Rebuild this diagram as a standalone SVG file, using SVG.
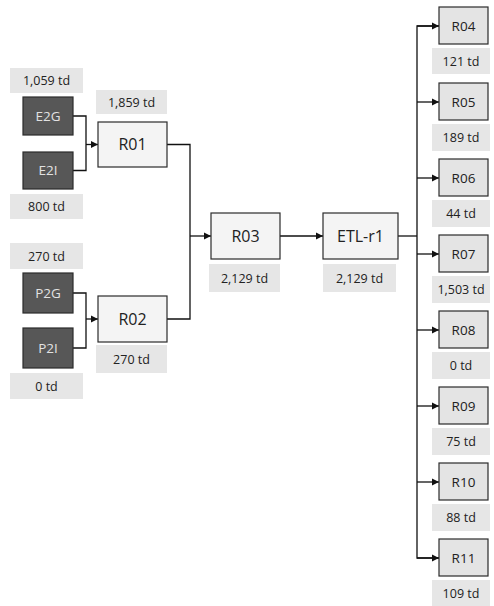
<svg xmlns="http://www.w3.org/2000/svg" width="494" height="606" viewBox="0 0 494 606">
<style>
.src{fill:#575757;stroke:#2b2b2b;stroke-width:1.2}
.srct{fill:#e2e2e2;font-family:"Open Sans","Liberation Sans",sans-serif;font-size:13.5px;text-anchor:middle}
.mid{fill:#f4f4f4;stroke:#2b2b2b;stroke-width:1.2}
.out{fill:#e4e4e4;stroke:#2b2b2b;stroke-width:1.2}
.bt{fill:#222;font-family:"Open Sans","Liberation Sans",sans-serif;font-size:16px;text-anchor:middle}
.ot{fill:#222;font-family:"Open Sans","Liberation Sans",sans-serif;font-size:13.5px;text-anchor:middle}
.lb{fill:#e6e6e6}
.lt{fill:#222;font-family:"Open Sans","Liberation Sans",sans-serif;font-size:12.5px;text-anchor:middle}
.c{fill:none;stroke:#111;stroke-width:1.3}
</style>
<defs>
<marker id="ah" markerWidth="8" markerHeight="8" refX="7" refY="4" orient="auto" markerUnits="userSpaceOnUse">
<path d="M0,0.5 L7,4 L0,7.5 Z" fill="#111"/>
</marker>
</defs>
<g id="connectors">
<path class="c" d="M73,116 H86 V170.5 H73"/>
<path class="c" d="M86,144.5 H98" marker-end="url(#ah)"/>
<path class="c" d="M73,293 H86 V348 H73"/>
<path class="c" d="M86,319 H98" marker-end="url(#ah)"/>
<path class="c" d="M167,144.5 H190 V319 H167"/>
<path class="c" d="M190,236 H211" marker-end="url(#ah)"/>
<path class="c" d="M280,236 H323" marker-end="url(#ah)"/>
<path class="c" d="M398,236 H417"/>
<path class="c" d="M439,26 H417 V558 H439"/>
<path class="c" d="M417,26 H439" marker-end="url(#ah)"/>
<path class="c" d="M417,102 H439" marker-end="url(#ah)"/>
<path class="c" d="M417,178 H439" marker-end="url(#ah)"/>
<path class="c" d="M417,254 H439" marker-end="url(#ah)"/>
<path class="c" d="M417,330 H439" marker-end="url(#ah)"/>
<path class="c" d="M417,406 H439" marker-end="url(#ah)"/>
<path class="c" d="M417,482 H439" marker-end="url(#ah)"/>
<path class="c" d="M417,558 H439" marker-end="url(#ah)"/>
</g>
<g id="E2G">
<rect class="lb" x="10" y="68" width="73" height="25"/><text class="lt" x="46.5" y="85">1,059 td</text>
<rect class="src" x="23" y="97" width="50" height="38"/><text class="srct" x="48" y="121">E2G</text>
</g>
<g id="E2I">
<rect class="src" x="23" y="152" width="50" height="37"/><text class="srct" x="48" y="175">E2I</text>
<rect class="lb" x="10" y="194" width="73" height="25"/><text class="lt" x="46.5" y="211">800 td</text>
</g>
<g id="R01">
<rect class="lb" x="96" y="90" width="71" height="24"/><text class="lt" x="131.5" y="106.5">1,859 td</text>
<rect class="mid" x="98" y="122" width="69" height="45"/><text class="bt" x="132.5" y="150">R01</text>
</g>
<g id="P2G">
<rect class="lb" x="10" y="243" width="73" height="26"/><text class="lt" x="46.5" y="260.5">270 td</text>
<rect class="src" x="23" y="273" width="50" height="40"/><text class="srct" x="48" y="298">P2G</text>
</g>
<g id="P2I">
<rect class="src" x="23" y="328" width="50" height="40"/><text class="srct" x="48" y="353">P2I</text>
<rect class="lb" x="10" y="373" width="73" height="26"/><text class="lt" x="46.5" y="390.5">0 td</text>
</g>
<g id="R02">
<rect class="mid" x="98" y="296" width="69" height="46"/><text class="bt" x="132.5" y="324.5">R02</text>
<rect class="lb" x="96" y="345" width="71" height="28"/><text class="lt" x="131.5" y="363.5">270 td</text>
</g>
<g id="R03">
<rect class="mid" x="211" y="213" width="69" height="46"/><text class="bt" x="245.5" y="241.5">R03</text>
<rect class="lb" x="209" y="264" width="71" height="28"/><text class="lt" x="244.5" y="282.5">2,129 td</text>
</g>
<g id="ETL-r1">
<rect class="mid" x="323" y="213" width="75" height="46"/><text class="bt" x="360.5" y="241.5">ETL-r1</text>
<rect class="lb" x="323" y="264" width="73" height="28"/><text class="lt" x="359.5" y="282.5">2,129 td</text>
</g>
<g id="R04">
<rect class="out" x="439" y="7" width="49" height="37"/><text class="ot" x="463.5" y="30.5">R04</text>
<rect class="lb" x="432" y="48" width="58" height="26"/><text class="lt" x="461" y="65.5">121 td</text>
</g>
<g id="R05">
<rect class="out" x="439" y="83" width="49" height="37"/><text class="ot" x="463.5" y="106.5">R05</text>
<rect class="lb" x="432" y="124" width="58" height="27"/><text class="lt" x="461" y="142">189 td</text>
</g>
<g id="R06">
<rect class="out" x="439" y="159" width="49" height="37"/><text class="ot" x="463.5" y="182.5">R06</text>
<rect class="lb" x="432" y="200" width="58" height="27"/><text class="lt" x="461" y="218">44 td</text>
</g>
<g id="R07">
<rect class="out" x="439" y="235" width="49" height="37"/><text class="ot" x="463.5" y="258.5">R07</text>
<rect class="lb" x="432" y="276" width="58" height="27"/><text class="lt" x="461" y="294">1,503 td</text>
</g>
<g id="R08">
<rect class="out" x="439" y="311" width="49" height="37"/><text class="ot" x="463.5" y="334.5">R08</text>
<rect class="lb" x="432" y="352" width="58" height="27"/><text class="lt" x="461" y="370">0 td</text>
</g>
<g id="R09">
<rect class="out" x="439" y="387" width="49" height="37"/><text class="ot" x="463.5" y="410.5">R09</text>
<rect class="lb" x="432" y="428" width="58" height="27"/><text class="lt" x="461" y="446">75 td</text>
</g>
<g id="R10">
<rect class="out" x="439" y="463" width="49" height="37"/><text class="ot" x="463.5" y="486.5">R10</text>
<rect class="lb" x="432" y="504" width="58" height="27"/><text class="lt" x="461" y="522">88 td</text>
</g>
<g id="R11">
<rect class="out" x="439" y="539" width="49" height="37"/><text class="ot" x="463.5" y="562.5">R11</text>
<rect class="lb" x="432" y="580" width="58" height="26"/><text class="lt" x="461" y="597.5">109 td</text>
</g>
</svg>
